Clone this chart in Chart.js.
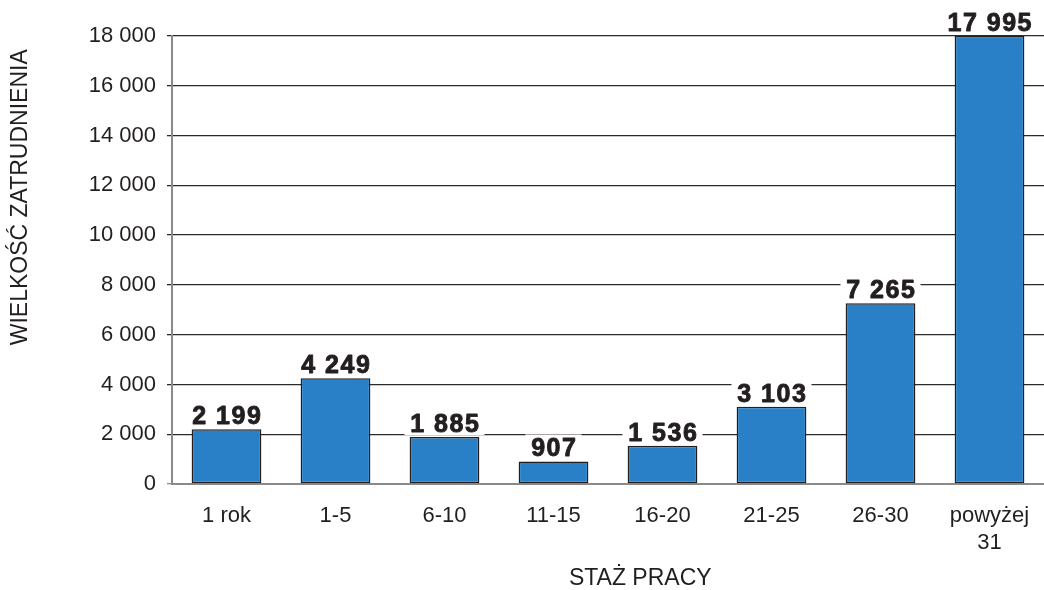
<!DOCTYPE html>
<html lang="pl">
<head>
  <meta charset="UTF-8">
  <title>Wielkość zatrudnienia wg stażu pracy</title>
  <script src="https://cdn.jsdelivr.net/npm/chart.js"></script>
  <style>
    html, body {
      margin: 0;
      padding: 0;
      background: #ffffff;
    }
    #wrap {
      width: 1044px;
      height: 590px;
      position: relative;
    }
  </style>
</head>
<body>
  <div id="wrap">
    <canvas id="stazChart"></canvas>
  </div>

  <script>
    const categories = ['1 rok', '1-5', '6-10', '11-15', '16-20', '21-25', '26-30', ['powyżej', '31']];
    const employment = [2199, 4249, 1885, 907, 1536, 3103, 7265, 17995];
    const yTicks = [0, 2000, 4000, 6000, 8000, 10000, 12000, 14000, 16000, 18000];

    const xTitle = 'STAŻ PRACY';
    const yTitle = 'WIELKOŚĆ ZATRUDNIENIA';

    const FONT = "'Liberation Sans', Arial, sans-serif";

    // 18000 -> "18 000"
    const fmt = v => String(v).replace(/\B(?=(\d{3})+(?!\d))/g, ' ');

    // heavy value labels on a white box above every bar
    const valueLabels = {
      id: 'valueLabels',
      afterDatasetsDraw(chart) {
        const ctx = chart.ctx;
        const meta = chart.getDatasetMeta(0);
        ctx.save();
        ctx.font = 'bold 25px ' + FONT;
        ctx.letterSpacing = '1.5px';
        ctx.textAlign = 'center';
        ctx.textBaseline = 'alphabetic';
        ctx.lineWidth = 0.9;
        ctx.lineJoin = 'round';
        meta.data.forEach((bar, i) => {
          const txt = fmt(employment[i]);
          const w = ctx.measureText(txt).width;
          const base = bar.y - 5;
          ctx.fillStyle = '#ffffff';
          ctx.fillRect(bar.x - w / 2 - 5, base - 22, w + 10, 25);
          ctx.fillStyle = '#231f20';
          ctx.strokeStyle = '#231f20';
          ctx.fillText(txt, bar.x + 0.75, base);
          ctx.strokeText(txt, bar.x + 0.75, base);
        });
        ctx.restore();
      }
    };

    // axis titles, placed off-centre like in the printed figure
    const axisTitles = {
      id: 'axisTitles',
      afterDraw(chart) {
        const ctx = chart.ctx;
        const a = chart.chartArea;
        ctx.save();
        ctx.fillStyle = '#231f20';
        ctx.font = '23px ' + FONT;
        ctx.textAlign = 'center';
        ctx.textBaseline = 'middle';
        ctx.fillText(xTitle, a.left + (a.right - a.left) * 0.537, chart.height - 11);
        ctx.translate(21, a.top + (a.bottom - a.top) * 0.36);
        ctx.rotate(-Math.PI / 2);
        ctx.fillText(yTitle, 0, 0);
        ctx.restore();
      }
    };

    new Chart(document.getElementById('stazChart'), {
      type: 'bar',
      data: {
        labels: categories,
        datasets: [{
          data: employment,
          backgroundColor: '#2980c7',
          borderColor: '#231f20',
          borderWidth: 1.5,
          borderSkipped: false,
          barPercentage: 0.8,
          categoryPercentage: 0.8
        }]
      },
      options: {
        responsive: true,
        maintainAspectRatio: false,
        animation: false,
        layout: {
          padding: { top: 36, right: 0, bottom: 0, left: 0 }
        },
        plugins: {
          legend: { display: false },
          tooltip: { enabled: false }
        },
        scales: {
          x: {
            grid: { display: false },
            border: { display: true, color: '#8a8a8a', width: 2 },
            ticks: {
              color: '#231f20',
              font: { family: FONT, size: 22, lineHeight: 1.25 },
              padding: 10,
              maxRotation: 0,
              autoSkip: false
            },
            afterFit(scale) { scale.height = 106; }
          },
          y: {
            min: 0,
            max: 18000,
            afterBuildTicks(scale) {
              scale.ticks = yTicks.map(v => ({ value: v }));
            },
            grid: {
              color: c => (c.tick && c.tick.value === 0) ? '#8a8a8a' : '#2b2b2b',
              lineWidth: 1.3,
              tickLength: 5
            },
            border: { display: true, color: '#8a8a8a', width: 2 },
            ticks: {
              color: '#231f20',
              font: { family: FONT, size: 22 },
              padding: 11,
              callback: v => fmt(v)
            },
            afterFit(scale) { scale.width = 172; }
          }
        }
      },
      plugins: [valueLabels, axisTitles]
    });
  </script>
</body>
</html>
